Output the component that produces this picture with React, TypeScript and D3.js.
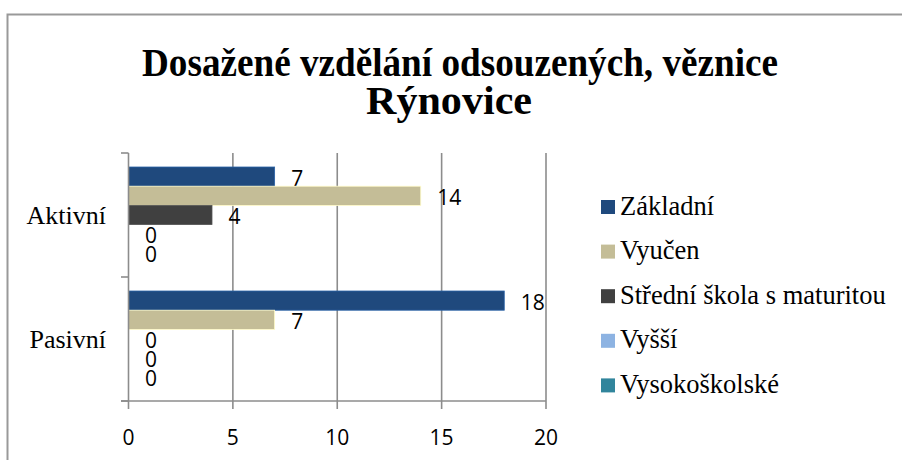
import { useRef, useEffect } from 'react';
import * as d3 from 'd3';

const categories = ['Aktivní', 'Pasivní'];
const seriesNames = ['Základní', 'Vyučen', 'Střední škola s maturitou', 'Vyšší', 'Vysokoškolské'];
const seriesColors = ['#1f497d', '#c4bd97', '#404040', '#8db3e2', '#31859c'];
// values per series, in category order [Aktivní, Pasivní]
const zakladni = [7, 18];
const vyucen = [14, 7];
const stredni = [4, 0];
const vyssi = [0, 0];
const vysokoskolske = [0, 0];
const xTicks = [0, 5, 10, 15, 20];
const titleLines = ['Dosažené vzdělání odsouzených, věznice', 'Rýnovice'];

const seriesValues = [zakladni, vyucen, stredni, vyssi, vysokoskolske];

export default function App() {
  const svgRef = useRef<SVGSVGElement>(null);
  const width = 902;
  const height = 460;

  useEffect(() => {
    if (!svgRef.current) return;
    const svg = d3.select(svgRef.current);
    svg.selectAll('*').remove();

    const sans = "'Open Sans', 'Liberation Sans', sans-serif";
    const serif = "'Liberation Serif', 'DejaVu Serif', serif";
    const axisColor = '#8c8c8c';

    svg.append('rect').attr('width', width).attr('height', height).attr('fill', '#fff');

    // outer frame (only top and left visible)
    svg.append('path')
      .attr('d', `M7.5,${height} V14.5 H${width}`)
      .attr('fill', 'none')
      .attr('stroke', '#999')
      .attr('stroke-width', 2);

    // title
    const titleX = [460, 449];
    const titleY = [76, 114];
    const titleW = [636, 166];
    titleLines.forEach((t, i) => {
      svg.append('text')
        .attr('x', titleX[i])
        .attr('y', titleY[i])
        .attr('text-anchor', 'middle')
        .style('font-family', serif)
        .attr('font-weight', 'bold')
        .attr('font-size', 41)
        .attr('textLength', titleW[i])
        .attr('lengthAdjust', 'spacingAndGlyphs')
        .text(t);
    });

    const left = 128.5, right = 546, top = 153, bottom = 401;

    const x = d3.scaleLinear().domain([0, 20]).range([left, right]);
    const y = d3.scaleBand<string>().domain(categories).range([top, bottom]);
    const yInner = d3.scaleBand<string>()
      .domain(seriesNames)
      .range([0, y.bandwidth()])
      .paddingInner(0)
      .paddingOuter(0.73);

    const g = svg.append('g');

    // gridlines
    g.selectAll('.grid')
      .data(xTicks.filter(d => d > 0))
      .join('line')
      .attr('x1', d => x(d)).attr('x2', d => x(d))
      .attr('y1', top).attr('y2', bottom)
      .attr('stroke', axisColor)
      .attr('stroke-width', 1.6);

    // bars
    seriesNames.forEach((name, si) => {
      const color = seriesColors[si];
      categories.forEach((cat, ci) => {
        const v = seriesValues[si][ci];
        const by = (y(cat) ?? 0) + (yInner(name) ?? 0);
        const bh = yInner.bandwidth();
        if (v > 0) {
          g.append('rect')
            .attr('x', x(0))
            .attr('y', by)
            .attr('width', x(v) - x(0))
            .attr('height', bh)
            .attr('fill', color)
            .attr('stroke', d3.color(color)!.brighter(0.8).formatHex())
            .attr('stroke-width', 0.8);
        }
        g.append('text')
          .attr('x', x(v) + 16.5)
          .attr('y', by + bh / 2 + 1)
          .attr('dominant-baseline', 'central')
          .style('font-family', sans)
          .attr('font-size', 21)
          .attr('fill', '#000')
          .text(v);
      });
    });

    // axes
    g.append('line')
      .attr('x1', x(0)).attr('x2', x(0))
      .attr('y1', top).attr('y2', bottom)
      .attr('stroke', axisColor).attr('stroke-width', 1.6);
    g.append('line')
      .attr('x1', left - 7.5).attr('x2', right)
      .attr('y1', bottom).attr('y2', bottom)
      .attr('stroke', axisColor).attr('stroke-width', 1.6);

    // left ticks at band boundaries
    const bounds = [top, ...categories.map(c => (y(c) ?? 0) + y.bandwidth())];
    g.selectAll('.ytick')
      .data(bounds)
      .join('line')
      .attr('x1', left - 7.5).attr('x2', left)
      .attr('y1', d => d).attr('y2', d => d)
      .attr('stroke', axisColor).attr('stroke-width', 1.6);

    // bottom ticks and labels
    xTicks.forEach(t => {
      g.append('line')
        .attr('x1', x(t)).attr('x2', x(t))
        .attr('y1', bottom).attr('y2', bottom + 8)
        .attr('stroke', axisColor).attr('stroke-width', 1.6);
      g.append('text')
        .attr('x', x(t))
        .attr('y', 437)
        .attr('text-anchor', 'middle')
        .attr('dominant-baseline', 'central')
        .style('font-family', sans)
        .attr('font-size', 21)
        .text(t);
    });

    // category labels
    categories.forEach(c => {
      g.append('text')
        .attr('x', 106)
        .attr('y', (y(c) ?? 0) + y.bandwidth() / 2 + 9)
        .attr('text-anchor', 'end')
        .style('font-family', serif)
        .attr('font-size', 26)
        .text(c);
    });

    // legend
    const legend = svg.append('g').attr('transform', 'translate(601,200)');
    seriesNames.forEach((name, i) => {
      legend.append('rect')
        .attr('x', 0)
        .attr('y', i * 44.6)
        .attr('width', 14)
        .attr('height', 14)
        .attr('fill', seriesColors[i]);
      legend.append('text')
        .attr('x', 19)
        .attr('y', i * 44.6 + 14.5)
        .style('font-family', serif)
        .attr('font-size', 26.5)
        .text(name);
    });
  }, []);

  return (
    <svg
      ref={svgRef}
      width={width}
      height={height}
      style={{ position: 'absolute', left: 0, top: 0 }}
    />
  );
}
